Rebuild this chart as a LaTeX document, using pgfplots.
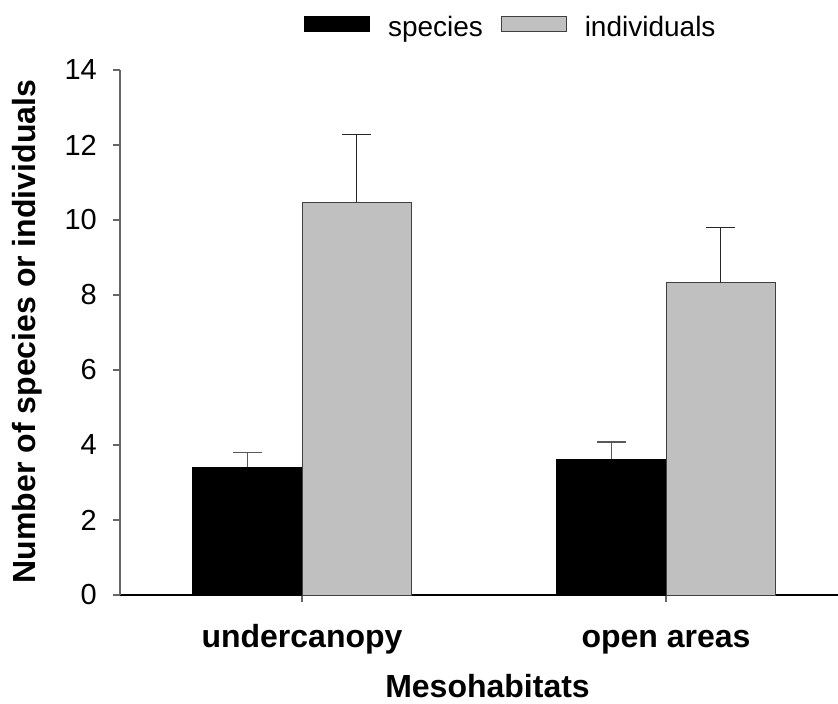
\documentclass[border=0pt]{standalone}
\usepackage{pgfplots}
\pgfplotsset{compat=1.18}
\usepackage{fontspec}
\setmainfont{Liberation Sans}
\usetikzlibrary{calc}
\definecolor{barg}{RGB}{192,192,192}
\begin{document}
\begin{tikzpicture}
\begin{axis}[
  name=ax,
  scale only axis,
  width=718pt, height=525pt,
  xmin=-0.5, xmax=1.4725, ymin=0, ymax=14,
  axis x line=bottom, axis y line=left,
  axis line style={-, line width=1.6pt},
  y axis line style={black!60},
  ybar=0pt, bar width=0.3,
  xtick={0,1}, xticklabels={undercanopy, open areas},
  ytick={0,2,...,14},
  tick align=outside, major tick length=7pt,
  tick style={black!60, line width=1.2pt},
  /pgf/number format/assume math mode=true,
  yticklabel style={font=\fontsize{29}{34}\selectfont, inner sep=0pt, anchor=east, xshift=-16pt},
  xticklabel style={font=\fontsize{32}{38}\selectfont\bfseries, inner sep=0pt, anchor=base, yshift=-45pt},
  legend columns=2,
  legend style={draw=none, fill=none, inner sep=0pt, nodes={inner sep=0pt},
    column sep=18pt, font=\fontsize{28}{33}\selectfont,
    at={(0.2563,1.061)}, anchor=south west},
  legend image code/.code={\draw[#1] (0pt,-5pt) rectangle (65pt,10pt);},
]
\addplot[fill=black, draw=black, line width=0.8pt,
  legend image code/.code={\draw[fill=black,draw=black] (0pt,-5pt) rectangle (65pt,10pt);},
  error bars/.cd, y dir=plus, y explicit,
  error bar style={line width=1.2pt, black!65},
  error mark options={rotate=90, mark size=14.5pt, line width=1.2pt, black!65}]
  coordinates {(0,3.41) +- (0,0.39) (1,3.62) +- (0,0.46)};
\addlegendentry{species}
\addplot[fill=barg, draw=black!75, line width=0.8pt,
  legend image code/.code={\draw[fill=barg,draw=black!75,line width=0.8pt] (0pt,-5pt) rectangle (65pt,10pt);},
  error bars/.cd, y dir=plus, y explicit,
  error bar style={line width=1.2pt, black!85},
  error mark options={rotate=90, mark size=14.5pt, line width=1.2pt, black!85}]
  coordinates {(0,10.47) +- (0,1.82) (1,8.33) +- (0,1.48)};
\addlegendentry{individuals}
\end{axis}
\node[rotate=90, anchor=base, font=\fontsize{32}{38}\selectfont\bfseries]
  at ($(ax.south west)+(-84pt,263.5pt)$) {Number of species or individuals};
\node[anchor=base, font=\fontsize{32}{38}\selectfont\bfseries]
  at ($(ax.south west)+(367.5pt,-102pt)$) {Mesohabitats};
\pgfresetboundingbox
\useasboundingbox ($(ax.south west)+(-120pt,-109pt)$) rectangle ($(ax.south west)+(718pt,595pt)$);
\end{tikzpicture}
\end{document}
